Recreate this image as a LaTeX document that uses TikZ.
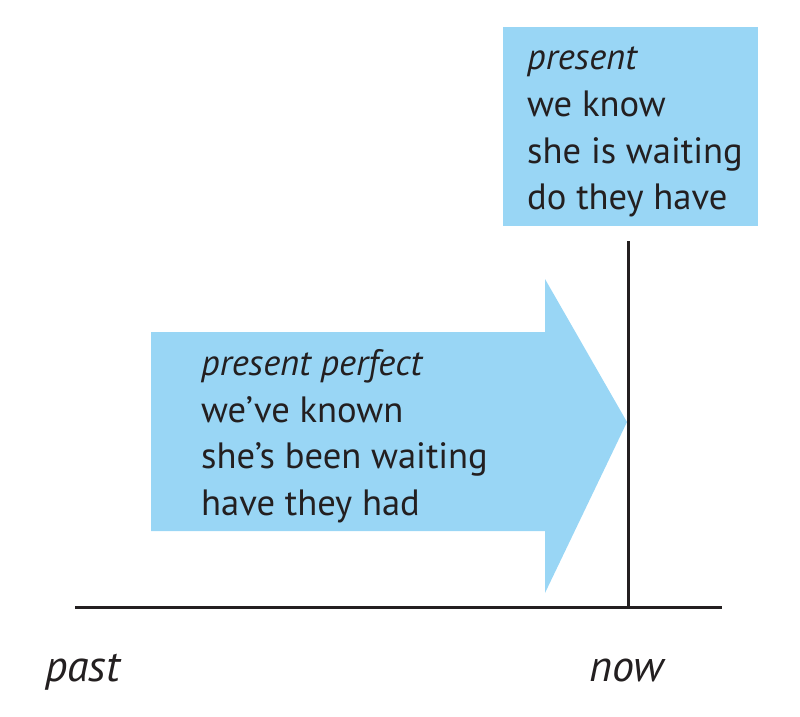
\documentclass[tikz,border=0pt]{standalone}
\usepackage{fontspec}
\setmainfont{PT Sans}
\definecolor{tlblue}{RGB}{153,214,245}
\definecolor{tlink}{RGB}{35,31,32}
\begin{document}
\begin{tikzpicture}[x=1pt,y=-1pt,
  txt/.style={anchor=base west,inner sep=0pt,font=\fontsize{36.6}{40}\selectfont,text=tlink},
  lbl/.style={anchor=base west,inner sep=0pt,font=\fontsize{44}{48}\selectfont\itshape,text=tlink},
  axis/.style={draw=tlink,line width=3.5pt}]
\useasboundingbox (0,0) rectangle (800,717);
% present box
\fill[tlblue] (503,27) rectangle (758,226);
% arrow
\fill[tlblue] (151,332) -- (545,332) -- (545,279) -- (627,422) -- (545,593) -- (545,531) -- (151,531) -- cycle;
% axes
\coordinate (hl) at (75,607.5);
\coordinate (hr) at (722,607.5);
\coordinate (vt) at (628.5,241);
\coordinate (vb) at (628.5,607.5);
\draw[axis] (hl) -- (hr);
\draw[axis] (vt) -- (vb);
% present text
\node[txt] (a1) at (527,70) {\itshape present};
\node[txt] (a2) at (527,116.5) {we know};
\node[txt] (a3) at (527,163) {she is waiting};
\node[txt] (a4) at (527,209) {do they have};
% present perfect text
\node[txt] (b1) at (201,375) {\itshape present perfect};
\node[txt] (b2) at (201,422) {we’ve known};
\node[txt] (b3) at (201,468) {she’s been waiting};
\node[txt] (b4) at (201,515) {have they had};
% labels
\node[lbl] (past) at (45,681.5) {past};
\node[lbl] (now) at (589,681.5) {now};
\end{tikzpicture}
\end{document}
